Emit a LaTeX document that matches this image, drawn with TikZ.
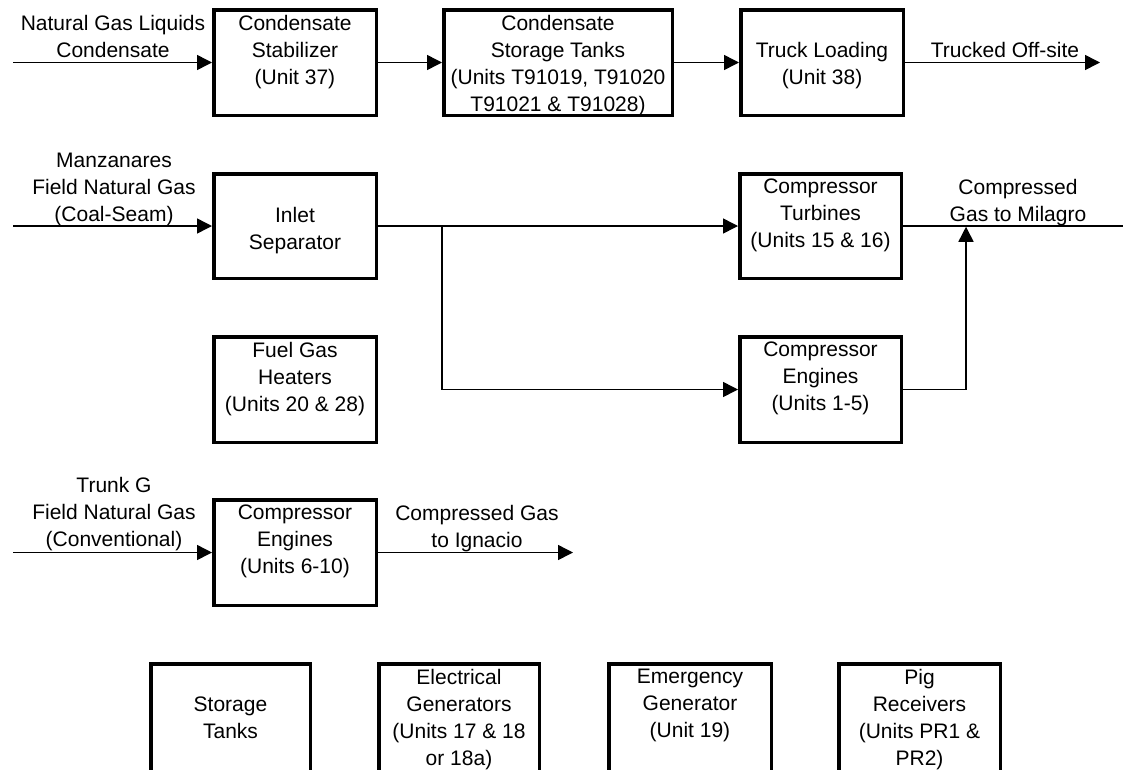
\documentclass[tikz,border=0pt]{standalone}
\usepackage{fontspec}
\setmainfont{Liberation Sans}
\usetikzlibrary{arrows.meta}
\begin{document}
\begin{tikzpicture}[x=1pt,y=-1pt,
  box/.style={draw, line width=3.5pt, anchor=north west, inner sep=0pt, minimum width=162.5pt, minimum height=105.5pt},
  txt/.style={anchor=north, align=center, inner sep=0pt, font=\fontsize{21}{27}\selectfont},
  flow/.style={line width=1.5pt, -{Triangle[length=15pt,width=15pt]}},
  pipe/.style={line width=1.5pt}]
\useasboundingbox (0,0) rectangle (1123,769);
\clip (0,0) rectangle (1123,769);
% boxes
\node[box] (b1) at (212,8) {};
\node[box, minimum width=228.5pt] (b2) at (442,8) {};
\node[box] (b3) at (739,8) {};
\node[box, minimum height=104.5pt] (b4) at (212,172) {};
\node[box, minimum width=161.5pt, minimum height=104.5pt] (b5) at (738,172) {};
\node[box] (b6) at (212,335) {};
\node[box, minimum width=161.5pt] (b7) at (738,335) {};
\node[box] (b8) at (212,498) {};
\node[box, minimum width=159.5pt, minimum height=150pt] (b9) at (149,662) {};
\node[box, minimum width=160.5pt, minimum height=150pt] (b10) at (377,662) {};
\node[box, minimum width=162.5pt, minimum height=150pt] (b11) at (607,662) {};
\node[box, minimum width=161.5pt, minimum height=150pt] (b12) at (837,662) {};
% box texts
\node[txt] (t1) at ([yshift=-7pt]b1.north) {Condensate\\Stabilizer\\(Unit 37)};
\node[txt] (t2) at ([yshift=-7pt]b2.north) {Condensate\\Storage Tanks\\(Units T91019, T91020\\T91021 \& T91028)};
\node[txt] (t3) at ([yshift=-34pt]b3.north) {Truck Loading\\(Unit 38)};
\node[txt] (t4) at ([yshift=-35pt]b4.north) {Inlet\\Separator};
\node[txt] (t5) at ([yshift=-7pt]b5.north) {Compressor\\Turbines\\(Units 15 \& 16)};
\node[txt] (t6) at ([yshift=-7pt]b6.north) {Fuel Gas\\Heaters\\(Units 20 \& 28)};
\node[txt] (t7) at ([yshift=-7pt]b7.north) {Compressor\\Engines\\(Units 1-5)};
\node[txt] (t8) at ([yshift=-7pt]b8.north) {Compressor\\Engines\\(Units 6-10)};
\node[txt] (t9) at ([yshift=-35pt]b9.north) {Storage\\Tanks};
\node[txt] (t10) at ([yshift=-7pt]b10.north) {Electrical\\Generators\\(Units 17 \& 18\\or 18a)};
\node[txt] (t11) at ([yshift=-7pt]b11.north) {Emergency\\Generator\\(Unit 19)};
\node[txt] (t12) at ([yshift=-7pt]b12.north) {Pig\\Receivers\\(Units PR1 \&\\PR2)};
% stream labels
\node[txt] (l1) at (113,15) {Natural Gas Liquids\\Condensate};
\node[txt] (l2) at (1005,42) {Trucked Off-site};
\node[txt] (l3) at (114,153) {Manzanares\\Field Natural Gas\\(Coal-Seam)};
\node[txt] (l4) at (1018,179) {Compressed\\Gas to Milagro};
\node[txt] (l5) at (114,477) {Trunk G\\Field Natural Gas\\(Conventional)};
\node[txt] (l6) at (477,505) {Compressed Gas\\to Ignacio};
% coordinates
\coordinate (in1) at (13,62.5);
\coordinate (out1) at (1100,62.5);
\coordinate (in2) at (13,226);
\coordinate (j1) at (442,226);
\coordinate (j2) at (966,226);
\coordinate (out2) at (1123,226);
\coordinate (in3) at (13,552.5);
\coordinate (out3) at (573,552.5);
% connectors
\draw[flow] (in1) -- (b1.west);
\draw[flow] (b1.east) -- (b2.west);
\draw[flow] (b2.east) -- (b3.west);
\draw[flow] (b3.east) -- (out1);
\draw[flow] (in2) -- (b4.west);
\draw[flow] (b4.east) -- (b5.west);
\draw[flow] (j1) |- (b7.west);
\draw[flow] (b7.east) -| ([yshift=-0.75pt]j2);
\draw[pipe] (b5.east) -- (out2);
\draw[flow] (in3) -- (b8.west);
\draw[flow] (b8.east) -- (out3);
\end{tikzpicture}
\end{document}
